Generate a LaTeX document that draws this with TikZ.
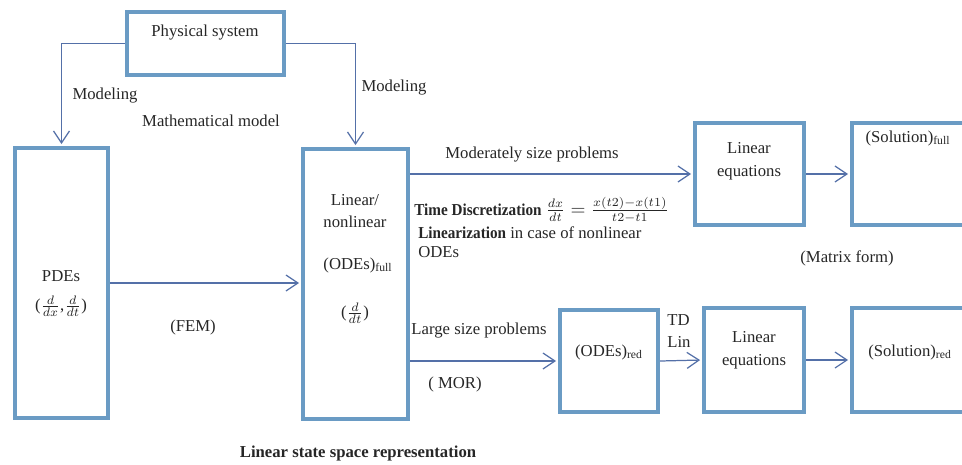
\documentclass[tikz,border=0pt]{standalone}
\usepackage{amsmath}
\usepackage{graphicx}
\usepackage{fontspec}
\setmainfont{Liberation Serif}
\usetikzlibrary{arrows.meta}
\definecolor{boxblue}{RGB}{106,155,196}
\definecolor{lineblue}{RGB}{84,112,168}

\begin{document}
\begin{tikzpicture}[x = 0.02cm, y = -0.02cm,
  every node/.style = {font = \fontsize{9.5}{13}\selectfont, text = black!85, inner sep = 0pt},
  box/.style = {draw = boxblue, line width = 2.3pt},
  arr/.style = {draw = lineblue, line width = 0.7pt, shorten > = 1.1pt,
    -{Straight Barb[length = 2.4mm, width = 3.2mm]}}]
\useasboundingbox (0, 0) rectangle (962, 464);
\clip (0, 0) rectangle (962, 464);
\node [box, minimum width = 31.4mm, minimum height = 12.6mm] (phys) at (205.5, 43.5) {};
\node [box, minimum width = 18.6mm, minimum height = 54mm] (pde) at (61.5, 283) {};
\node [box, minimum width = 21mm, minimum height = 54mm] (ode) at (355.5, 284) {};
\node [box, minimum width = 21.8mm, minimum height = 20.4mm] (leq) at (749.5, 174) {};
\node [box, minimum width = 22.4mm, minimum height = 20.4mm] (solf) at (908, 174) {};
\node [box, minimum width = 19.6mm, minimum height = 20.4mm] (odr) at (609, 361) {};
\node [box, minimum width = 20mm, minimum height = 20.8mm] (leq2) at (754, 360) {};
\node [box, minimum width = 22.4mm, minimum height = 20.8mm] (solr) at (908, 360) {};
\node (physt) at (205, 33) {Physical system};
\node (pdet) at (61, 276) {PDEs};
\node (pdef) at (61, 306) {($\frac{d}{dx}$,$\frac{d}{dt}$)};
\node [align = center] (odet) at (355, 211) {Linear/\\nonlinear};
\node (odefull) at (358, 265) {(ODEs)\textsubscript{full}};
\node (odef) at (355, 313) {($\frac{d}{dt}$)};
\node [align = center] (leqt) at (749, 161.5) {Linear\\equations};
\node [align = center] (leq2t) at (754, 350.5) {Linear\\equations};
\node (solft) at (908, 138) {(Solution)\textsubscript{full}};
\node (solrt) at (910, 352) {(Solution)\textsubscript{red}};
\node (odrt) at (609, 352) {(ODEs)\textsubscript{red}};
\draw [arr] (phys.west) -| (pde.north);
\draw [arr] (phys.east) -| (ode.north);
\draw [arr] (pde.east) -- (pde.east -| ode.west);
\draw [arr] (ode.east |- leq.west) -- (leq.west);
\draw [arr] (ode.east |- odr.west) -- (odr.west);
\draw [arr] (odr.east) -- (leq2.west);
\draw [arr] (leq.east) -- (solf.west);
\draw [arr] (leq2.east) -- (solr.west);
\node (mod1) at (105, 96) {Modeling};
\node (mod2) at (394, 88) {Modeling};
\node (math) at (211, 121) {Mathematical model};
\node (fem) at (193, 327) {(FEM)};
\node (moder) at (532, 155) {Moderately size problems};
\node [anchor = west] (tdisc) at (414, 210) {\scalebox{0.91}[1]{\textbf{Time Discretization}}
  {\fontsize{10.5}{13}\selectfont$\frac{dx}{dt}=\frac{x(t2)-x(t1)}{t2-t1}$}};
\node [anchor = west] (linz) at (418, 233) {\scalebox{0.91}[1]{\textbf{Linearization}} in case of nonlinear};
\node [anchor = west] (odes) at (418, 252) {ODEs};
\node (large) at (479, 330) {Large size problems};
\node (mor) at (455, 384) {( MOR)};
\node [anchor = west, align = left] (tdlin) at (667, 331) {TD\\Lin};
\node (matrix) at (847, 258) {(Matrix form)};
\node (lssr) at (358, 453) {\textbf{Linear state space representation}};
\end{tikzpicture}
\end{document}
